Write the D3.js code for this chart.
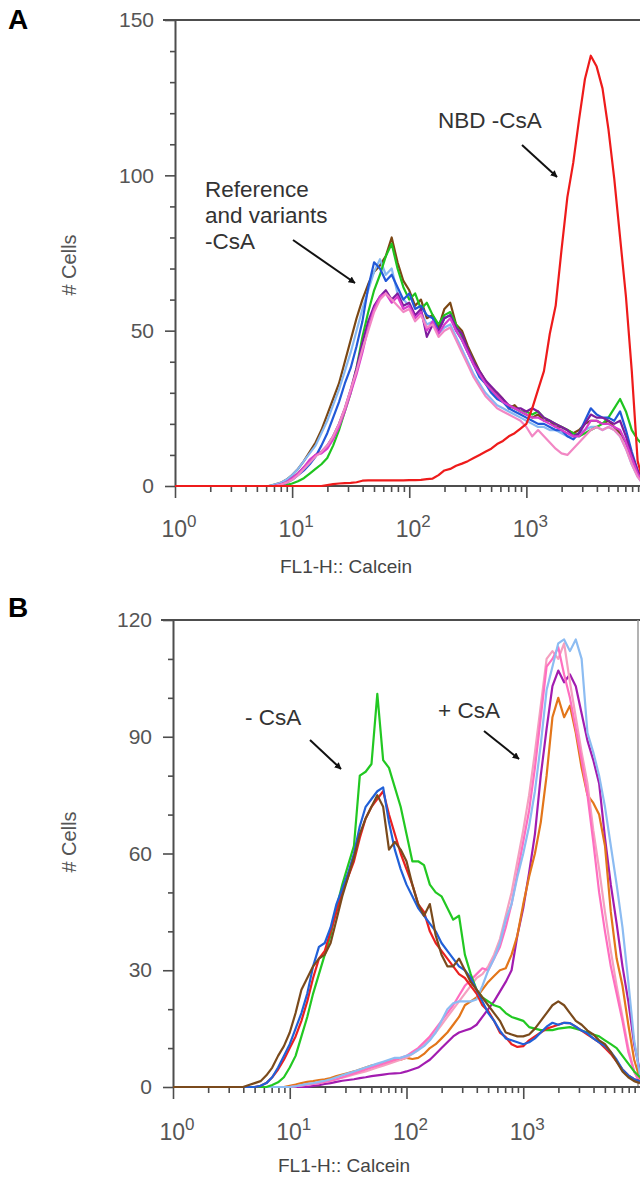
<!DOCTYPE html>
<html>
<head>
<meta charset="utf-8">
<script src="https://cdn.jsdelivr.net/npm/d3@7"></script>
<style>
  body { margin: 0; background: #fff; }
  svg { display: block; }
  text { font-family: "Liberation Sans", Arial, sans-serif; }
</style>
</head>
<body>
<div id="chart"></div>
<script>
// log10 of FL1-H channel, shared by every histogram
const logBins = [0, 0.6, 0.65, 0.7, 0.75,
  0.8, 0.85, 0.9, 0.95, 1.0, 1.05, 1.1, 1.15, 1.2, 1.25,
  1.3, 1.35, 1.4, 1.45, 1.5, 1.55, 1.6, 1.65, 1.7, 1.75,
  1.8, 1.85, 1.9, 1.95, 2.0, 2.05, 2.1, 2.15, 2.2, 2.25,
  2.3, 2.35, 2.4, 2.45, 2.5, 2.55, 2.6, 2.65, 2.7, 2.75,
  2.8, 2.85, 2.9, 2.95, 3.0, 3.05, 3.1, 3.15, 3.2, 3.25,
  3.3, 3.35, 3.4, 3.45, 3.5, 3.55, 3.6, 3.65, 3.7, 3.75,
  3.8, 3.85, 3.9, 3.95, 4.0];

// panel A (# cells)
const aBrown = [0, 0, 0, 0, 0,
  0, 0.5, 1, 2, 3.5, 5.5, 8, 11, 14, 18,
  23, 28, 33, 40, 47, 54, 60, 65, 69, 71,
  74, 80, 72, 66, 63, 58, 60, 54, 55, 51,
  57, 59, 52, 50, 45, 41, 37, 34, 31, 30,
  28, 25, 26, 24, 23, 22, 23, 21, 21, 19,
  19, 18, 17, 18, 20, 21, 21, 20, 21, 19,
  17, 14, 9, 4, 1];
const aGreen = [0, 0, 0, 0, 0,
  0, 0, 0, 0.3, 0.8, 1.5, 2.5, 4, 5.5, 7,
  9, 13, 18, 24, 30, 38, 48, 56, 63, 68,
  74, 78, 70, 64, 60, 62, 57, 59, 55, 52,
  55, 56, 52, 48, 44, 40, 36, 33, 31, 29,
  27, 26, 25, 24, 24, 23, 24, 22, 21, 20,
  19, 18, 17, 16, 17, 18, 19, 20, 22, 25,
  28, 24, 18, 15, 13];
const aBlue = [0, 0, 0, 0, 0,
  0, 0, 0.5, 1, 2, 3.5, 5, 7, 9.5, 13,
  17, 22, 27, 33, 38, 45, 53, 64, 72, 70,
  66, 68, 64, 60, 62, 57, 58, 55, 54, 50,
  54, 55, 50, 47, 43, 39, 35, 33, 30, 28,
  27, 25, 24, 23, 22, 21, 20, 20, 19, 18,
  18, 16, 15, 17, 21, 25, 23, 22, 22, 21,
  24, 18, 11, 5, 2];
const aLightBlue = [0, 0, 0, 0, 0,
  0, 0.5, 1, 2, 3.5, 5.5, 8, 10.5, 13, 17,
  21, 26, 31, 37, 43, 50, 57, 63, 69, 73,
  68, 70, 62, 60, 58, 55, 56, 52, 53, 49,
  51, 52, 48, 44, 40, 36, 33, 30, 28, 26,
  25, 24, 23, 22, 21, 20, 19, 19, 18, 18,
  17, 16, 16, 17, 18, 19, 19, 18, 19, 18,
  16, 12, 7, 3, 0.5];
const aPurple = [0, 0, 0, 0, 0,
  0, 0, 0.5, 1, 2.5, 4, 6, 8, 10, 11,
  13, 16, 20, 25, 31, 38, 46, 53, 58, 61,
  63, 60, 62, 58, 59, 55, 57, 48, 52, 50,
  54, 55, 51, 49, 44, 40, 37, 34, 32, 30,
  28, 26, 25, 25, 24, 25, 24, 22, 21, 20,
  19, 18, 16, 17, 20, 23, 22, 22, 21, 20,
  21, 16, 10, 5, 1];
const aMagenta = [0, 0, 0, 0, 0,
  0, 0, 0.5, 1.2, 2.5, 4, 6, 8.5, 10, 10.5,
  12, 15, 19, 24, 30, 36, 43, 51, 57, 61,
  62, 59, 61, 57, 58, 54, 56, 50, 53, 49,
  52, 54, 50, 47, 43, 39, 36, 33, 31, 29,
  27, 26, 25, 24, 23, 22, 22, 21, 20, 19,
  18, 17, 16, 16, 18, 21, 21, 20, 20, 19,
  18, 14, 9, 4, 1];
const aPink = [0, 0, 0, 0, 0,
  0, 0, 0.5, 1, 2, 3.5, 5.5, 7.5, 9.5, 11,
  13, 16, 20, 25, 31, 37, 44, 50, 56, 60,
  62, 60, 58, 56, 57, 53, 55, 51, 52, 48,
  50, 51, 47, 43, 39, 35, 32, 29, 27, 25,
  24, 23, 22, 21, 19, 16, 18, 16, 14, 12,
  10.5, 10, 12, 14, 16, 18, 19, 18, 19, 18,
  16, 12, 7, 3, 0.5];
const aNbd = [0, 0, 0, 0, 0,
  0, 0, 0, 0, 0, 0, 0, 0, 0, 0,
  0.3, 0.6, 0.8, 0.9, 1, 1.2, 1.7, 1.8, 1.8, 1.8,
  1.8, 1.8, 1.8, 1.8, 1.9, 1.9, 2, 2.2, 2.4, 3.5,
  5, 5.5, 6.5, 7.2, 8, 9, 10, 11, 12, 13.5,
  14.5, 16, 17, 18.5, 20, 25, 31, 37, 49, 58,
  76, 93, 104, 118, 131, 138.5, 135, 128, 115, 99,
  80, 61, 37, 8, 1];

// panel B, - CsA
const bGreen = [0, 0, 0, 0, 0,
  0, 0.5, 1.2, 2.5, 5, 8, 13, 18, 24, 29,
  34, 39, 46, 52, 57, 62, 80, 81, 83, 101,
  84, 82, 77, 72, 65, 58, 58, 57, 52, 50,
  49, 46, 43, 44, 34, 29, 25, 23, 22, 21,
  20.5, 19, 18, 17.5, 17, 15.4, 15, 14.6, 14.6, 14.6,
  15, 15.2, 15.4, 15, 14.5, 14, 13.5, 13, 12, 11,
  10, 8, 6, 4, 2.5];
const bBlue = [0, 0, 0, 0, 0.3,
  1, 2.5, 5, 8, 11, 15, 19, 24, 31, 36,
  37, 41, 47, 51, 55, 60, 67, 72, 74, 76,
  77, 68, 61, 56, 52, 49, 46, 44, 42, 40,
  37, 35, 33, 31, 30, 28, 25, 22, 19, 17,
  14.5, 12.5, 12, 11.5, 11, 11.5, 12.5, 14, 15.5, 16.5,
  16, 16.5, 16.4, 15.5, 14.5, 13.8, 12.5, 11.5, 10.5, 9,
  7, 4.5, 3, 2, 1.5];
const bRed = [0, 0, 0, 0, 0.3,
  1, 2.5, 4.5, 7, 10, 13, 17, 22, 28, 33,
  35, 40, 45, 50, 54, 58, 64, 69, 72, 74,
  76, 70, 65, 60, 56, 52, 47, 45, 40, 37,
  35, 33, 31, 29, 28, 26, 24, 21, 19.5, 17,
  14, 12.8, 11, 10.3, 10.5, 12, 13, 14, 15, 15.5,
  16, 16.5, 16.4, 15.5, 14.5, 13.5, 12.5, 11.5, 10, 8.5,
  6.5, 4.5, 3, 2, 1.5];
const bBrown = [0, 0, 0.5, 1, 1.5,
  3, 5, 8, 10.5, 14, 19, 25, 28, 31, 33,
  34, 37, 43, 49, 54, 59, 65, 69, 72, 75,
  72, 61, 63, 61, 58, 52, 47, 44, 47, 39,
  34, 31, 31, 33, 30, 27, 25, 23, 21, 19,
  17, 14, 13.5, 13, 13, 13.5, 15, 17, 19, 21,
  22, 21, 19, 17, 16, 14.5, 13.5, 12, 11, 9,
  6.5, 4, 2.5, 1.5, 1];

// panel B, + CsA
const bOrange = [0, 0, 0, 0, 0,
  0, 0, 0, 0, 0.3, 0.6, 1, 1.3, 1.5, 1.8,
  2, 2.3, 2.8, 3.2, 3.6, 4, 4.5, 5, 5.5, 5.8,
  6.2, 6.5, 7, 7, 7.5, 7.2, 7.5, 8.5, 10, 11,
  12.5, 14, 16, 18, 21, 22, 23, 25, 27, 28.5,
  30, 30.5, 34, 39, 47, 54, 60, 68, 80, 95,
  100, 95, 98, 91, 82, 75, 73, 70, 62, 45,
  33, 26, 16, 7, 2];
const bLightBlue = [0, 0, 0, 0, 0,
  0, 0, 0, 0, 0, 0.2, 0.5, 0.8, 1, 1.3,
  1.6, 2, 2.5, 3, 3.5, 4, 4.5, 5, 5.5, 6,
  6.5, 7, 7.5, 7.5, 8, 8.5, 9.5, 10.5, 12, 14,
  17, 20, 21.5, 22, 22, 22, 22.5, 26, 30, 33,
  37, 43, 47, 54, 60, 67, 76, 88, 102, 108,
  114, 115, 112, 115, 110, 91, 86, 80, 72, 62,
  52, 41, 27, 12, 3];
const bPink = [0, 0, 0, 0, 0,
  0, 0, 0, 0, 0, 0.2, 0.4, 0.6, 0.8, 1,
  1.3, 1.6, 2, 2.5, 3, 3.5, 4, 4.5, 5, 5.5,
  6, 6.5, 7, 7.5, 8, 9, 10, 11.5, 13, 15,
  17, 19, 21, 23.5, 26, 27.5, 29, 30.5, 30, 33,
  36, 41, 47, 55, 63, 71, 82, 95, 108, 110,
  113, 106, 100, 92, 84, 75, 63, 50, 40, 31,
  24, 17, 9, 4, 1];
const bLightPink = [0, 0, 0, 0, 0,
  0, 0, 0, 0, 0, 0.2, 0.4, 0.6, 0.8, 1,
  1.3, 1.6, 2, 2.4, 2.8, 3.2, 3.6, 4, 4.5, 5,
  5.5, 6, 6.5, 7, 7.5, 8.5, 9.5, 11, 12.5, 14,
  16, 18, 20, 22, 24, 26, 28, 29, 31, 34,
  38, 44, 50, 58, 66, 75, 86, 98, 110, 112,
  110, 114, 104, 95, 86, 78, 66, 56, 45, 35,
  26, 18, 10, 4, 1];
const bPurple = [0, 0, 0, 0, 0,
  0, 0, 0, 0, 0, 0, 0, 0, 0.3, 0.5,
  0.8, 1, 1.3, 1.6, 1.8, 2, 2.3, 2.5, 2.8, 3,
  3.2, 3.4, 3.5, 3.6, 4, 4.5, 5, 6, 7, 8.5,
  10, 11.5, 13, 14, 14.5, 15, 16, 18, 20, 22,
  24.5, 27, 30, 39, 46, 55, 65, 80, 92, 103,
  107, 104, 106, 103, 96, 89, 84, 78, 64, 52,
  42, 31, 22, 11, 4];

const yTicksA = [0, 50, 100, 150];
const yTicksB = [0, 30, 60, 90, 120];
const decades = [0, 1, 2, 3];

const width = 640, height = 1179;
const svg = d3.select("#chart").append("svg")
  .attr("width", width)
  .attr("height", height);

svg.append("defs").append("marker")
  .attr("id", "arrowhead")
  .attr("viewBox", "0 0 10 10")
  .attr("refX", 9).attr("refY", 5)
  .attr("markerWidth", 7).attr("markerHeight", 7)
  .attr("markerUnits", "userSpaceOnUse")
  .attr("orient", "auto")
  .append("path")
  .attr("d", "M0,0L10,5L0,10Z")
  .attr("fill", "#111");

const axisColor = "#4d4d4d";

const renderPanel = (p) => {
  const x = d3.scaleLog().domain([1, 1e4]).range([p.left, p.right]);
  const y = d3.scaleLinear().domain([0, p.yMax]).range([p.bottom, p.top]);
  const g = svg.append("g");

  // frame
  g.append("line")
    .attr("x1", p.left - 12).attr("x2", width)
    .attr("y1", p.top).attr("y2", p.top)
    .attr("stroke", axisColor).attr("stroke-width", 2);
  if (p.rightBorder) {
    g.append("line")
      .attr("x1", p.rightBorder).attr("x2", p.rightBorder)
      .attr("y1", p.top).attr("y2", p.bottom)
      .attr("stroke", "#9a9a9a").attr("stroke-width", 1.5);
  }

  // y axis
  const minorY = d3.range(0, p.yMax + 1, p.minorStep).filter(v => !p.yTicks.includes(v));
  g.append("g")
    .attr("transform", `translate(${p.left},0)`)
    .call(d3.axisLeft(y).tickValues(minorY).tickSize(5).tickSizeOuter(0).tickFormat(""))
    .call(a => a.select(".domain").remove());
  const yAxis = g.append("g")
    .attr("transform", `translate(${p.left},0)`)
    .call(d3.axisLeft(y).tickValues(p.yTicks).tickSize(10).tickSizeOuter(0).tickPadding(11));
  yAxis.select(".domain").attr("stroke", axisColor).attr("stroke-width", 2);
  yAxis.selectAll(".tick text")
    .attr("font-size", 21).attr("fill", "#555")
    .attr("font-family", "'Liberation Sans', Arial, sans-serif");
  g.selectAll(".tick line").attr("stroke", axisColor).attr("stroke-width", 1.6);

  // x axis, log decades
  const minorX = [];
  decades.forEach(d => d3.range(2, 10).forEach(m => minorX.push(m * 10 ** d)));
  g.append("g")
    .attr("transform", `translate(0,${p.bottom})`)
    .call(d3.axisBottom(x).tickValues(minorX).tickSize(6).tickSizeOuter(0).tickFormat(""))
    .call(a => a.select(".domain").remove())
    .selectAll(".tick line").attr("stroke", axisColor).attr("stroke-width", 1.6);
  const xAxis = g.append("g")
    .attr("transform", `translate(0,${p.bottom})`)
    .call(d3.axisBottom(x).tickValues(decades.map(d => 10 ** d)).tickSize(12).tickSizeOuter(0).tickFormat(""));
  xAxis.select(".domain").attr("stroke", axisColor).attr("stroke-width", 2)
    .attr("d", `M${p.left},0H${width}`);
  xAxis.selectAll(".tick line").attr("stroke", axisColor).attr("stroke-width", 1.6);
  xAxis.selectAll(".tick text").remove();
  decades.forEach(d => {
    const t = g.append("text")
      .attr("x", x(10 ** d) + 4).attr("y", p.bottom + p.xLabelDy)
      .attr("text-anchor", "middle").attr("fill", "#555");
    t.append("tspan").attr("font-size", 23).text("10");
    t.append("tspan").attr("font-size", 17).attr("dy", -10).text(d);
  });

  // axis titles
  g.append("text")
    .attr("transform", `translate(${p.yLabelX},${p.yLabelY}) rotate(-90)`)
    .attr("text-anchor", "middle").attr("font-size", 20).attr("fill", "#555")
    .text("# Cells");
  g.append("text")
    .attr("x", p.xTitleX).attr("y", p.xTitleY)
    .attr("font-size", 19).attr("fill", "#444")
    .text("FL1-H:: Calcein");

  // histograms
  const line = d3.line()
    .x((d, i) => x(10 ** logBins[i]))
    .y(d => y(d));
  g.selectAll("path.hist")
    .data(p.series)
    .enter()
    .append("path")
    .classed("hist", true)
    .attr("d", s => line(s.values))
    .attr("fill", "none")
    .attr("stroke", s => s.color)
    .attr("stroke-width", 2.2)
    .attr("stroke-linejoin", "round");

  // annotations, one text per line
  p.notes.forEach(n => {
    n.lines.forEach((l, i) => {
      g.append("text")
        .attr("x", n.x).attr("y", n.y + i * 26)
        .attr("font-size", 22.5).attr("fill", "#333")
        .text(l);
    });
    g.append("line")
      .attr("x1", n.arrow[0]).attr("y1", n.arrow[1])
      .attr("x2", n.arrow[2]).attr("y2", n.arrow[3])
      .attr("stroke", "#111").attr("stroke-width", 2)
      .attr("marker-end", "url(#arrowhead)");
  });

  svg.append("text")
    .attr("x", 8).attr("y", p.letterY)
    .attr("font-family", "'Liberation Serif', 'Times New Roman', serif")
    .attr("font-weight", "bold").attr("font-size", 28)
    .text(p.letter);
};

renderPanel({
  letter: "A", letterY: 29,
  left: 175, right: 643.5, top: 20, bottom: 486,
  yMax: 150, yTicks: yTicksA, minorStep: 10,
  xLabelDy: 51, yLabelX: 76, yLabelY: 265,
  xTitleX: 280, xTitleY: 573,
  series: [
    {values: aBrown, color: "#7b4714"},
    {values: aLightBlue, color: "#86b8f2"},
    {values: aGreen, color: "#1fc41f"},
    {values: aBlue, color: "#2158d8"},
    {values: aPurple, color: "#7e1c9e"},
    {values: aMagenta, color: "#d83ccc"},
    {values: aPink, color: "#f287c4"},
    {values: aNbd, color: "#ee1b1b"}
  ],
  notes: [
    {x: 205, y: 197, lines: ["Reference", "and variants", "-CsA"], arrow: [293, 240, 355, 283]},
    {x: 438, y: 128, lines: ["NBD -CsA"], arrow: [522, 145, 557, 177]}
  ]
});

renderPanel({
  letter: "B", letterY: 617,
  left: 173, right: 640, top: 620, bottom: 1087,
  yMax: 120, yTicks: yTicksB, minorStep: 10, rightBorder: 638,
  xLabelDy: 53, yLabelX: 76, yLabelY: 842,
  xTitleX: 278, xTitleY: 1172,
  series: [
    {values: bPurple, color: "#a21cb0"},
    {values: bOrange, color: "#e3761a"},
    {values: bLightPink, color: "#f5a0c0"},
    {values: bPink, color: "#ff6ec0"},
    {values: bLightBlue, color: "#8cbcf2"},
    {values: bGreen, color: "#22c822"},
    {values: bRed, color: "#ea2020"},
    {values: bBlue, color: "#2160d8"},
    {values: bBrown, color: "#7a4a1c"}
  ],
  notes: [
    {x: 245, y: 725, lines: ["- CsA"], arrow: [310, 740, 341, 769]},
    {x: 438, y: 718, lines: ["+ CsA"], arrow: [484, 731, 519, 759]}
  ]
});
</script>
</body>
</html>
